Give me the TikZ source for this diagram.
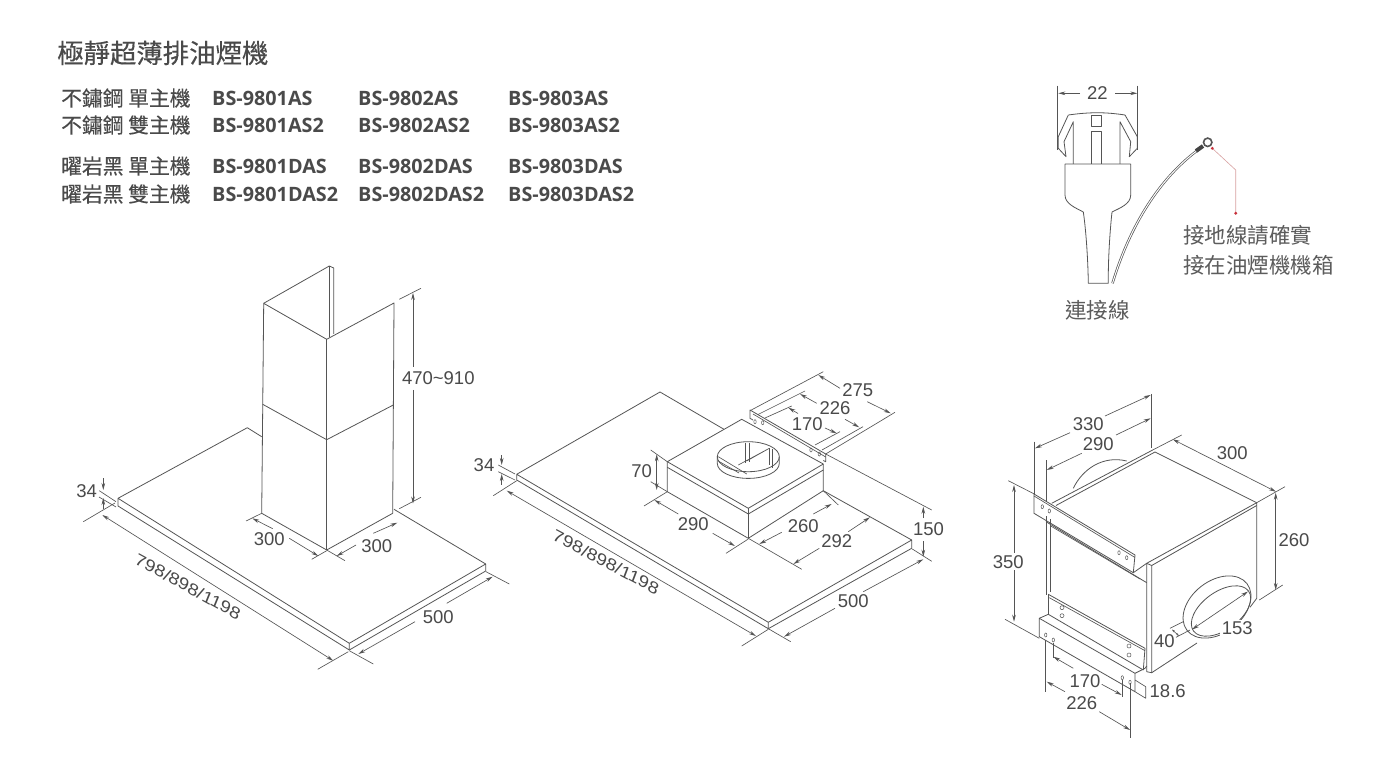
\documentclass[tikz,border=0pt]{standalone}
\usepackage{fontspec}
\usetikzlibrary{arrows.meta}
\setmainfont{Liberation Sans}
\newfontfamily\cjk{Noto Sans CJK TC}
\newfontfamily\cjkm[FakeBold=0.25]{Noto Sans CJK TC}
\newfontfamily\modelfont{Open Sans}
\definecolor{ink}{HTML}{555555}
\definecolor{txt}{HTML}{4A4A4A}
\definecolor{redc}{HTML}{C8323C}
\definecolor{redl}{HTML}{D8A0A0}
\tikzset{
 dl/.style={draw=ink,line width=0.65pt},
 ol/.style={draw=ink,line width=0.8pt,line join=round},
 ar/.style={dl,-{Stealth[length=7pt,width=3.6pt]}},
 arb/.style={dl,{Stealth[length=7pt,width=3.6pt]}-{Stealth[length=7pt,width=3.6pt]}},
 dimt/.style={font=\fontsize{18.5}{20}\selectfont,text=txt,inner sep=0pt},
 slt/.style={font=\fontsize{17.8}{20}\selectfont,text=txt,inner sep=0pt,xslant=-0.22,transform shape},
 zh/.style={font=\fontsize{20.8}{22}\cjkm,text=txt,inner sep=0pt,anchor=west},
 zhb/.style={font=\fontsize{21.5}{23}\cjk,text=txt!90,inner sep=0pt,anchor=west},
 md/.style={font=\fontsize{19.8}{21}\modelfont\bfseries,text=txt,inner sep=0pt,anchor=west},
 hole/.style={draw=ink,line width=0.5pt},
}
\begin{document}
\begin{tikzpicture}[x=1pt,y=-1pt]
\useasboundingbox[fill=white] (0,0) rectangle (1400,783);
% ---------- header
\node[font=\fontsize{26.4}{28}\cjkm,text=txt,inner sep=0pt,anchor=west] (title) at (57,53) {極靜超薄排油煙機};
\node[zh] (l1) at (61,98) {不鏽鋼 單主機};
\node[zh] (l2) at (61,125) {不鏽鋼 雙主機};
\node[zh] (l3) at (61,166) {曜岩黑 單主機};
\node[zh] (l4) at (61,194) {曜岩黑 雙主機};
\node[md] (a1) at (212,98) {BS-9801AS};
\node[md] (b1) at (358,98) {BS-9802AS};
\node[md] (c1) at (508,98) {BS-9803AS};
\node[md] (a2) at (212,125) {BS-9801AS2};
\node[md] (b2) at (358,125) {BS-9802AS2};
\node[md] (c2) at (508,125) {BS-9803AS2};
\node[md] (a3) at (212,166) {BS-9801DAS};
\node[md] (b3) at (358,166) {BS-9802DAS};
\node[md] (c3) at (508,166) {BS-9803DAS};
\node[md] (a4) at (212,194) {BS-9801DAS2};
\node[md] (b4) at (358,194) {BS-9802DAS2};
\node[md] (c4) at (508,194) {BS-9803DAS2};
% ---------- hood 1: chimney
\draw[ol] (263.7,303.3) -- (329.3,266) -- (333.7,268) -- (333.7,334);
\draw[ol] (329.3,266) -- (329.3,337);
\draw[ol] (263.7,303.3) -- (326.7,339.3) -- (394,303) -- (392.7,513.3) -- (326.7,550) -- (261.7,513.3) -- cycle;
\draw[ol] (326.7,339.3) -- (326.7,550);
\draw[ol] (262.7,404.3) -- (326.7,439.7) -- (393.3,405);
% plate
\draw[ol] (261.7,436.7) -- (247.3,427.7) -- (118,498.3) -- (118,506) -- (349.3,650) -- (349.3,643.3) -- (118,498.3);
\draw[ol] (349.3,643.3) -- (485.7,564) -- (485.7,571) -- (349.3,650);
\draw[ol] (394,509.3) -- (485.7,564);
% hood 1 dimensions
\draw[dl] (99.3,490.7) -- (116,501.7) (99,497) -- (116,507);
\draw[ar] (103.3,478.3) -- (103.3,490);
\draw[ar] (103.3,508.5) -- (103.3,498);
\node[dimt] (h1a) at (86.7,491) {34};
\draw[dl] (83.3,521.7) -- (115,503) (317.7,669.3) -- (348.3,651.7);
\draw[arb] (102.3,515) -- (333.3,660.7);
\node[slt,rotate=-32] (h1b) at (188,586.5) {798/898/1198};
\draw[dl] (349.3,650.7) -- (373.3,664) (486,571.7) -- (509.3,584);
\draw[ar] (415,621.7) -- (358.3,654);
\draw[ar] (446.7,603.3) -- (492.7,576.7);
\node[dimt] (h1c) at (438.3,617) {500};
\draw[dl] (399.3,299.3) -- (421,288.3) (399.3,508.7) -- (421,497.3);
\draw[ar] (413,367) -- (413,293);
\draw[ar] (413,390) -- (413,503.5);
\node[dimt] (h1d) at (438.3,378.3) {470\char`\~910};
\draw[dl] (246,521) -- (261.7,513.3) (311.7,559.3) -- (326.7,550.7);
\draw[ar] (272.7,528.7) -- (252.3,518.3);
\draw[ar] (289.3,538.3) -- (318.3,556);
\node[dimt] (h1e) at (269.3,539.5) {300};
\draw[dl] (326.7,550) -- (345,560.7);
\draw[ar] (356,545) -- (336.7,556);
\draw[ar] (373.3,533.3) -- (397.3,522.7);
\node[dimt] (h1f) at (376.7,546) {300};
% ---------- hood 2: plate
\draw[ol] (724,429.3) -- (660,392) -- (516.7,474.3) -- (516.7,480) -- (768.3,628.7) -- (768.3,622.3) -- (516.7,474.3);
\draw[ol] (768.3,622.3) -- (911.7,540) -- (911.7,548.3) -- (768.3,628.7);
\draw[ol] (823.3,490.7) -- (911.7,540);
% box
\draw[ol] (741.7,419.3) -- (667.3,461.7) -- (748.3,508.3) -- (823.3,464) -- cycle;
\draw[ol] (667.3,461.7) -- (667.3,491.7) -- (748.3,538.3) -- (823.3,490.7) -- (823.3,464);
\draw[ol] (667.3,467.3) -- (748.3,514) -- (823.3,470);
\draw[ol] (748.3,508.3) -- (748.3,538.3);
% collar
\draw[ol] (748.3,456.7) ellipse (31 and 15);
\draw[ol] (717.3,456.7) -- (717.3,463.4) arc[start angle=180,end angle=360,x radius=31,y radius=-15] -- (779.3,456.7);
\draw[dl] (718.3,456.7) -- (746.7,474) (718.3,461) -- (739,473);
\draw[dl] (738.3,465) -- (769.3,448.3) (746.7,461) -- (769.3,448.3);
\draw[dl] (745,442.7) -- (745,463.3) (749,442.7) -- (749,461.7) (769.3,448.3) -- (769.3,465) (772.7,449) -- (772.7,468);
% bracket
\draw[ol] (825.7,454) -- (750,410) -- (750,418.3) -- (753,420);
\draw[ol] (825.7,454) -- (825.7,461.7) -- (823.3,460.5);
\draw[dl] (753,414) -- (825.7,457);
\draw[hole] (755,421.7) ellipse (1.2 and 2) (762.7,422.7) ellipse (1.2 and 2) (811,450) ellipse (1.2 and 2) (819.3,454) ellipse (1.2 and 2);
% hood 2 dimensions
\draw[dl] (750,410.7) -- (823.3,371.7) (825.7,454) -- (895,412.3);
\draw[ar] (840,388.3) -- (818.3,375);
\draw[ar] (867.3,401.7) -- (890.7,413.3);
\node[dimt] (h2a) at (857.7,390) {275};
\draw[dl] (758,414.5) -- (805,391) (822,450) -- (863,426.7);
\draw[ar] (816.7,403.3) -- (800,394);
\draw[ar] (845,419.3) -- (859.3,427.3);
\node[dimt] (h2b) at (835,407.7) {226};
\draw[dl] (765,418) -- (791.7,406) (815,445) -- (840,431.7);
\draw[ar] (798,413.5) -- (788.3,407.7);
\draw[ar] (825,428) -- (836.7,433.3);
\node[dimt] (h2c) at (807.3,424.3) {170};
\draw[dl] (825.7,454) -- (931.7,510) (912.3,549) -- (931.7,561.3);
\draw[ar] (923.3,518) -- (923.3,506.7);
\draw[ar] (923.3,541) -- (923.3,556.7);
\node[dimt] (h2d) at (928.5,529.5) {150};
\draw[dl] (768.3,628.7) -- (790.7,641.7);
\draw[ar] (835,608.3) -- (784,636.7);
\draw[ar] (863.3,591.7) -- (923.3,559.3);
\node[dimt] (h2e) at (853.3,601) {500};
\draw[dl] (493.3,495.7) -- (516.7,480.7) (741.7,646) -- (768.3,629.3);
\draw[arb] (506.7,490.7) -- (756,636);
\node[slt,rotate=-31] (h2f) at (606,562) {798/898/1198};
\draw[dl] (498.3,465) -- (515,474) (498.3,471.7) -- (515,480);
\draw[ar] (501.7,455) -- (501.7,465);
\draw[ar] (501.7,484.5) -- (501.7,474);
\node[dimt] (h2g) at (484,465.3) {34};
\draw[dl] (650.7,450) -- (667.3,461.7) (650.7,481.7) -- (667.3,491.7);
\draw[arb] (656.7,454.3) -- (656.7,490);
\node[dimt] (h2h) at (641.7,471) {70};
\draw[dl] (644,506) -- (667.3,491.7) (726,553.3) -- (748.3,539);
\draw[ar] (678.3,514) -- (654.3,500);
\draw[ar] (712.7,533.3) -- (735,546);
\node[dimt] (h2i) at (693.3,524) {290};
\draw[dl] (823.3,490.7) -- (838.3,505);
\draw[ar] (781.7,532.3) -- (759.3,544);
\draw[ar] (813.3,514) -- (831.7,504);
\node[dimt] (h2j) at (803.3,526) {260};
\draw[dl] (748.3,538.3) -- (801.7,569.3);
\draw[ar] (819.3,548.3) -- (793.3,564);
\draw[ar] (848.3,531.7) -- (870,517.3);
\node[dimt] (h2k) at (836.7,541) {292};
% ---------- side unit
% top face
\draw[ol] (1051.7,503.3) -- (1152.7,450);
\draw[ol] (1056,505.5) -- (1155,452) -- (1256.7,502.7);
\draw[ol] (1146.7,563.3) -- (1256.7,502.7) -- (1256.7,598.3) -- (1250,607.3);
\draw[ol] (1151.7,565.5) -- (1256.7,505.5);
\draw[ol] (1146.7,563.3) -- (1151.7,565.5) -- (1151.7,672.7) -- (1146.7,671.7) -- (1146.7,563.3);
\draw[ol] (1151.7,672.7) -- (1197,643);
% collar behind
\draw[ol] (1073.3,488.3) .. controls (1082,470) and (1102,455) .. (1126.7,461);
% upper bracket
\draw[ol] (1034,494) -- (1135,555) -- (1133.3,572.7) -- (1034,513.3) -- cycle;
\draw[dl] (1034,496) -- (1135,557.5);
\draw[ol] (1133.3,572.7) -- (1146.7,563.3);
\draw[hole] (1042.3,506.7) ellipse (1.2 and 2) (1049.3,511) ellipse (1.2 and 2) (1119,552.7) ellipse (1.2 and 2) (1126.7,557.7) ellipse (1.2 and 2);
% front panel
\draw[ol] (1046,516) -- (1046,595) (1050.7,519) -- (1050.7,592);
\draw[ol] (1046,521.7) -- (1146.7,582.7);
\draw[dl] (1050.7,526) -- (1140,579);
% lower plate
\draw[ol] (1048.3,594.3) -- (1145,648.3) -- (1143.3,670);
\draw[dl] (1049.3,597.7) -- (1145,650.7);
\draw[ol] (1048.3,594.3) -- (1048.3,614.3);
\draw[hole] (1062,607.7) circle (2) (1062,615.7) circle (2) (1129,646) circle (2) (1129,655) circle (2);
% lower bracket
\draw[ol] (1039.3,618.3) -- (1048.3,614.3) -- (1143.3,670);
\draw[ol] (1039.3,618.3) -- (1135,673.3) -- (1135,691.7) -- (1039.3,636.7) -- cycle;
\draw[ol] (1135,673.3) -- (1145,668.3) -- (1146.7,666);
\draw[hole] (1045.7,635) ellipse (1.2 and 2) (1053.3,640) ellipse (1.2 and 2) (1122.3,677.7) ellipse (1.2 and 2) (1130,682.3) ellipse (1.2 and 2);
% collar side
\draw[ol,rotate around={38:(1217,607)}] (1217,607) ellipse (38 and 26);
\draw[ol,rotate around={36:(1221,611)}] (1221,611) ellipse (34 and 19);
% unit dimensions
\draw[dl] (1034.3,441.7) -- (1034.3,494) (1151.7,394) -- (1151.7,448);
\draw[ar] (1070,432.7) -- (1035,448.3);
\draw[ar] (1105,416) -- (1150.7,395);
\node[dimt] (u1) at (1088.3,424) {330};
\draw[dl] (1046,460) -- (1046,501.7);
\draw[ar] (1081.7,453.3) -- (1046.7,470);
\draw[ar] (1116,435) -- (1150.7,418.3);
\node[dimt] (u2) at (1098.3,444.3) {290};
\draw[dl] (1152.7,450) -- (1181.7,435) (1256.7,502.7) -- (1285,486.7);
\draw[arb] (1172.7,439.3) -- (1276,491.7);
\node[dimt] (u3) at (1232.3,452.7) {300};
\draw[dl] (1259.3,600) -- (1282.7,585);
\draw[arb] (1275.7,492.7) -- (1275.7,590);
\node[dimt] (u4) at (1294,540.5) {260};
\draw[dl] (1008.3,480.7) -- (1034.3,494) (1005,619.3) -- (1039.3,638.3);
\draw[ar] (1014,553) -- (1014,485);
\draw[ar] (1014,570) -- (1014,621.7);
\node[dimt] (u5) at (1008.3,561.7) {350};
\draw[dl] (1053.3,643.3) -- (1053.3,657.7) (1122.3,680) -- (1122.3,696.7);
\draw[ar] (1073.3,668.3) -- (1053.3,656.7);
\draw[ar] (1101.7,684.3) -- (1121.7,695);
\node[dimt] (u6) at (1085,681) {170};
\draw[dl] (1045.7,640) -- (1045.7,691.7) (1130.7,683.3) -- (1130.7,738.3);
\draw[ar] (1065,691.7) -- (1046.7,681.7);
\draw[ar] (1099.3,711.7) -- (1130,730);
\node[dimt] (u7) at (1081.7,703.5) {226};
\draw[dl] (1135,680) -- (1145.7,686.7) (1135,691.7) -- (1145.7,698.3) (1145.7,686.7) -- (1145.7,698.3);
\node[dimt] (u8) at (1167.7,691) {18.6};
\draw[arb] (1192,629.5) -- (1248,591.5);
\node[dimt,fill=white,inner sep=1.5pt] (u9) at (1237.3,628) {153};
\draw[dl] (1170,628.3) -- (1183.3,621.7) (1176,637.3) -- (1190,630);
\draw[dl,{Stealth[length=3pt,width=2pt]}-{Stealth[length=3pt,width=2pt]}] (1172,629.5) -- (1179,636);
\node[dimt] (u10) at (1164.3,640.7) {40};
% ---------- connector
\draw[dl] (1057.7,85.7) -- (1057.7,150) (1137.7,85.7) -- (1137.7,150);
\draw[ar] (1080,93.3) -- (1058.3,93.3);
\draw[ar] (1115,93.3) -- (1137.3,93.3);
\node[dimt] (k1) at (1097.3,92.7) {22};
\draw[ol] (1065,164) -- (1130.7,164) (1065,164) -- (1065,195) .. controls (1065,204) and (1076,208) .. (1083.3,212) .. controls (1086,230) and (1088,260) .. (1088.3,283.3) -- (1108.3,283.3) .. controls (1108,260) and (1110,230) .. (1112,212) .. controls (1120,208) and (1130.7,204) .. (1130.7,195) -- (1130.7,164);
\draw[ol] (1068.3,115) .. controls (1090,112) and (1105,112) .. (1125,115);
\draw[ol] (1068.3,115) -- (1058.3,136.7) -- (1058.3,148.3) -- (1066,156.7) -- (1064,141.7) -- (1073.3,121.7) -- (1073.3,164);
\draw[ol] (1125,115) -- (1137.3,136.7) -- (1137.3,148.3) -- (1129.3,156.7) -- (1130.7,141.7) -- (1120,121.7) -- (1120,164);
\draw[ol] (1091.7,115) rectangle (1101.7,126);
\draw[ol] (1091.7,164) -- (1091.7,131.7) -- (1101.7,131.7) -- (1101.7,164);
\draw[ink,line width=0.7pt,double=white,double distance=1pt] (1112.5,283.3) .. controls (1130,225) and (1160,178) .. (1198,150);
\draw[ink!80!black,line width=4pt] (1196,151) -- (1203,146);
\draw[ink,line width=1.6pt] (1207.7,142.3) circle (4.2);
\draw[redl,line width=0.6pt] (1212.3,148.3) -- (1235.7,170) -- (1235.7,213.3);
\fill[redc] (1212.3,148.3) circle (1.6) (1235.7,213.3) circle (1.6);
\node[zhb] (z1) at (1183,235.5) {接地線請確實};
\node[zhb] (z2) at (1183,265) {接在油煙機機箱};
\node[zhb] (z3) at (1065,310) {連接線};
\end{tikzpicture}
\end{document}
